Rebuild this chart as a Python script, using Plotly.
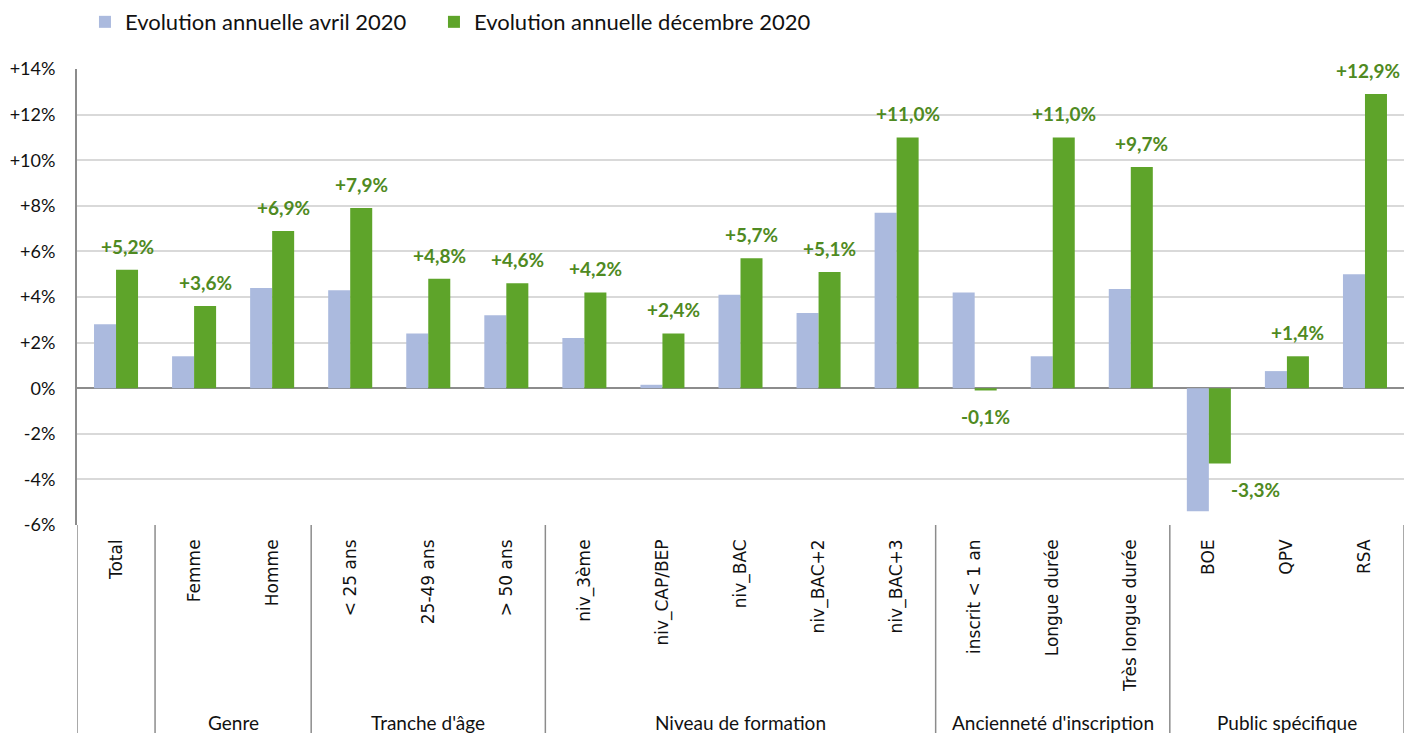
import plotly.graph_objects as go

categories = ["Total", "Femme", "Homme", "< 25 ans", "25-49 ans", "> 50 ans",
              "niv_3ème", "niv_CAP/BEP", "niv_BAC", "niv_BAC+2", "niv_BAC+3",
              "inscrit < 1 an", "Longue durée", "Très longue durée",
              "BOE", "QPV", "RSA"]
avril_2020 = [2.8, 1.4, 4.4, 4.3, 2.4, 3.2, 2.2, 0.15, 4.1, 3.3, 7.7,
              4.2, 1.4, 4.35, -5.4, 0.75, 5.0]
decembre_2020 = [5.2, 3.6, 6.9, 7.9, 4.8, 4.6, 4.2, 2.4, 5.7, 5.1, 11.0,
                 -0.1, 11.0, 9.7, -3.3, 1.4, 12.9]
groups = ["", "Genre", "Tranche d'âge", "Niveau de formation",
          "Ancienneté d'inscription", "Public spécifique"]
group_sizes = [1, 2, 3, 5, 3, 3]
y_ticks = [-6, -4, -2, 0, 2, 4, 6, 8, 10, 12, 14]
y_ticktext = ["-6%", "-4%", "-2%", "0%", "+2%", "+4%", "+6%", "+8%", "+10%", "+12%", "+14%"]

BLUE = "#ABBADE"
GREEN = "#5EA42A"
LABEL_GREEN = "#4F8A22"
LABEL_FONT = "Lato"
TEXT = "#111111"

fig = go.Figure()
fig.add_trace(go.Bar(x=categories, y=avril_2020, name="Evolution annuelle avril 2020",
                     marker=dict(color=BLUE, line=dict(width=0)), legend="legend"))
fig.add_trace(go.Bar(x=categories, y=decembre_2020, name="Evolution annuelle décembre 2020",
                     marker=dict(color=GREEN, line=dict(width=0)), legend="legend2"))

def fmt(v):
    s = f"{v:+.1f}".replace(".", ",")
    return s + "%"

annotations = []
n = len(categories)
for i, (c, v) in enumerate(zip(categories, decembre_2020)):
    if v >= 0:
        xs = 11 if i < n - 1 else 3
        annotations.append(dict(x=c, y=v, xref="x", yref="y", text=f"<b>{fmt(v)}</b>",
                                showarrow=False, yanchor="bottom", xshift=xs, yshift=10,
                                font=dict(family=LABEL_FONT, size=19, color=LABEL_GREEN)))
    else:
        xs = 11 if v > -1 else 47
        annotations.append(dict(x=c, y=v, xref="x", yref="y", text=f"<b>{fmt(v)}</b>",
                                showarrow=False, yanchor="top", xshift=xs, yshift=-13,
                                font=dict(family=LABEL_FONT, size=19, color=LABEL_GREEN)))

shapes = []
pos = -0.5
bounds = [pos]
for name, size in zip(groups, group_sizes):
    start = pos
    pos += size
    bounds.append(pos)
    if name:
        annotations.append(dict(x=(start + pos) / 2, y=-0.434, xref="x", yref="paper",
                                text=name, showarrow=False, yanchor="middle",
                                font=dict(family=LABEL_FONT, size=19, color=TEXT)))
for b in bounds:
    shapes.append(dict(type="line", xref="x", yref="paper", x0=b, x1=b, y0=0, y1=-0.5,
                       line=dict(color="#8C8C8C", width=1.5)))

legend_common = dict(orientation="h", xanchor="left", y=1.103, yanchor="middle",
                     font=dict(family=LABEL_FONT, size=22, color=TEXT), itemclick=False)

fig.update_layout(
    width=1404, height=733,
    margin=dict(l=77, r=0, t=69, b=208, autoexpand=False),
    paper_bgcolor="white", plot_bgcolor="white",
    barmode="group", bargap=0.436, bargroupgap=0,
    showlegend=True,
    legend=dict(x=0.006, **legend_common),
    legend2=dict(x=0.269, **legend_common),
    annotations=annotations, shapes=shapes,
    xaxis=dict(type="category", categoryorder="array", categoryarray=categories,
               range=[-0.5, 16.5], tickangle=-90, showgrid=False, showline=False,
               ticks="", ticklabelstandoff=10, automargin=False,
               tickfont=dict(family="DejaVu Sans", size=17, color=TEXT)),
    yaxis=dict(range=[-6, 14], tickvals=y_ticks, ticktext=y_ticktext,
               showgrid=True, gridcolor="#D9D9D9", gridwidth=1.5,
               zeroline=True, zerolinecolor="#8C8C8C", zerolinewidth=2,
               showline=True, linecolor="#8C8C8C", linewidth=2,
               ticks="", ticklabelstandoff=16, automargin=False,
               tickfont=dict(family=LABEL_FONT, size=18, color=TEXT)),
)

fig.write_html("out.html", config={"displayModeBar": False},
               post_script="document.body.style.margin='0';document.body.style.overflow='hidden';")
